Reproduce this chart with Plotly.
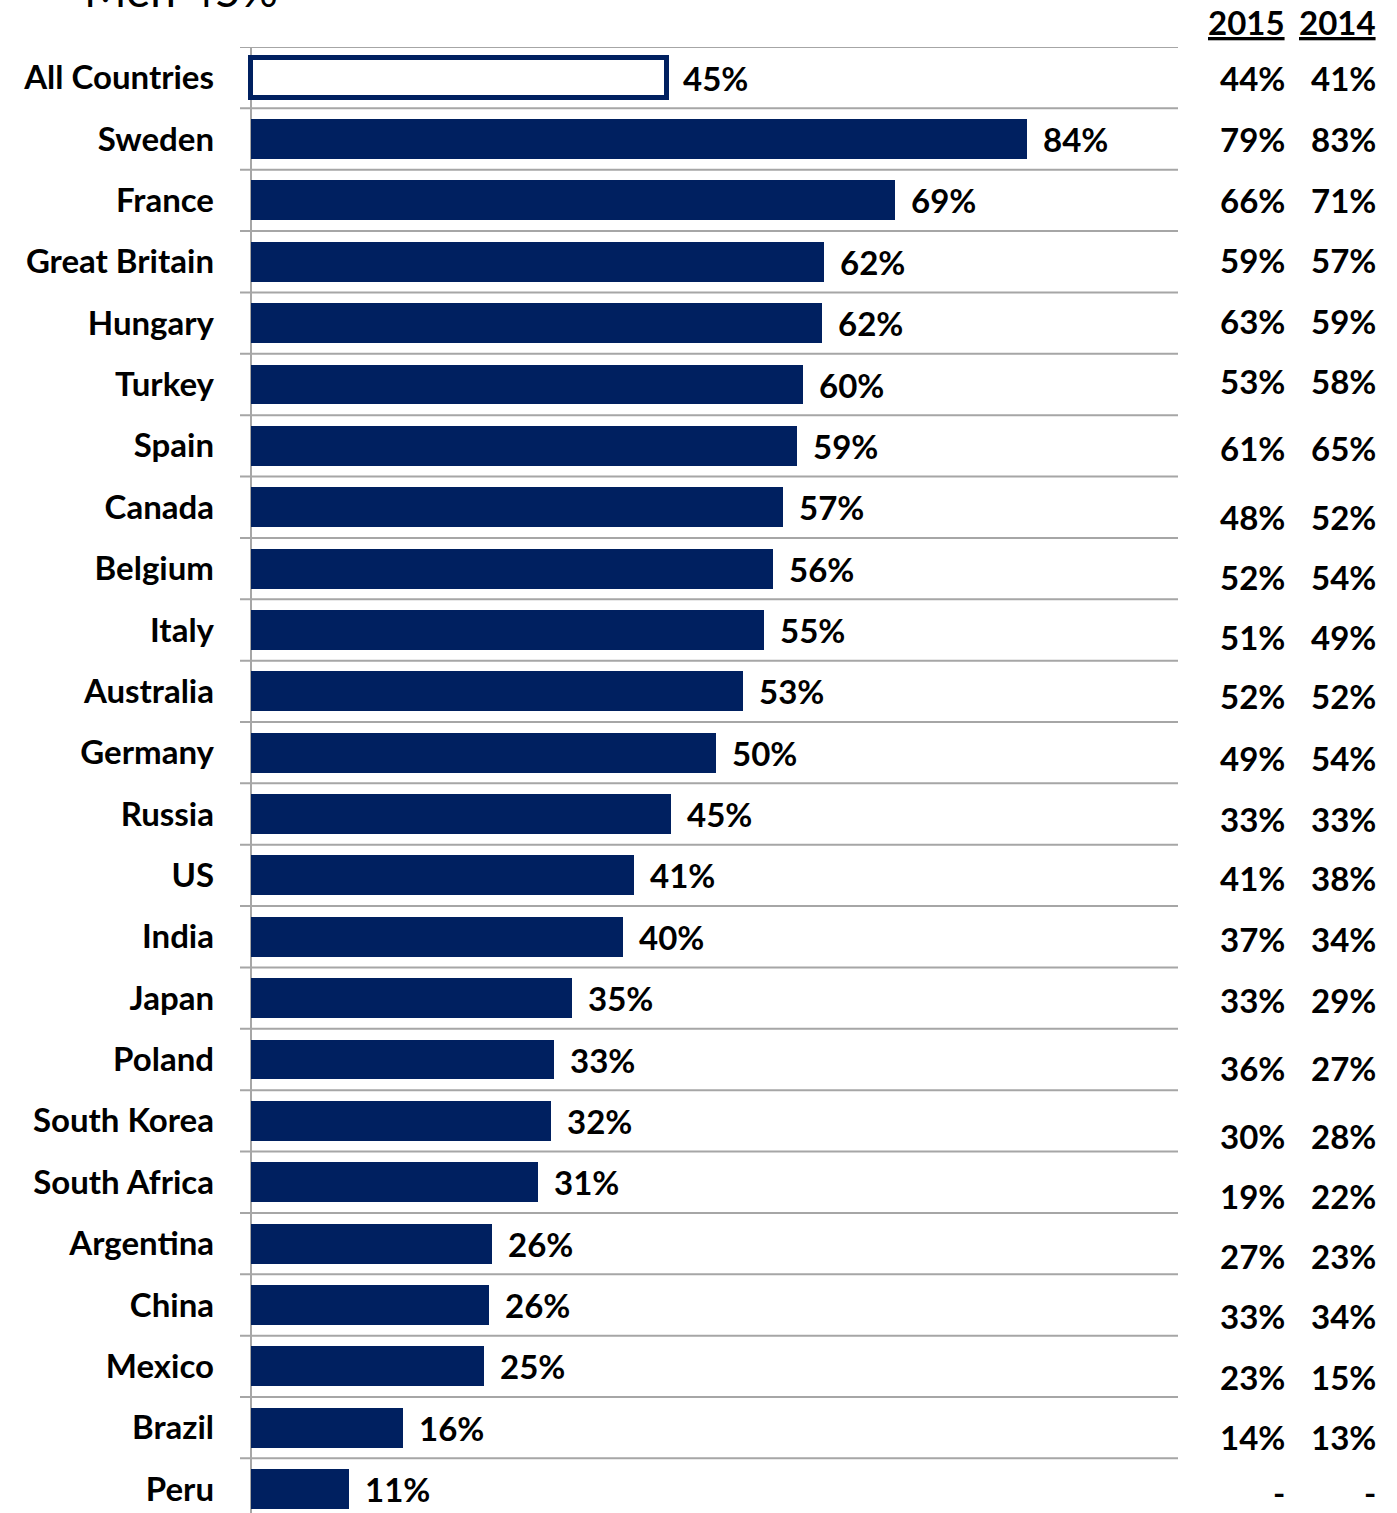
import plotly.graph_objects as go

countries = ["All Countries", "Sweden", "France", "Great Britain", "Hungary", "Turkey",
             "Spain", "Canada", "Belgium", "Italy", "Australia", "Germany", "Russia",
             "US", "India", "Japan", "Poland", "South Korea", "South Africa",
             "Argentina", "China", "Mexico", "Brazil", "Peru"]
# bar lengths (percent)
bar_values = [45.0, 84.0, 69.7, 62.0, 61.8, 59.7, 59.1, 57.6, 56.5, 55.5, 53.2, 50.3,
              45.5, 41.5, 40.3, 34.7, 32.8, 32.5, 31.1, 26.1, 25.8, 25.2, 16.5, 10.6]
# printed labels
labels_2016 = [45, 84, 69, 62, 62, 60, 59, 57, 56, 55, 53, 50, 45, 41, 40, 35, 33, 32,
               31, 26, 26, 25, 16, 11]
values_2015 = ["44%", "79%", "66%", "59%", "63%", "53%", "61%", "48%", "52%", "51%",
               "52%", "49%", "33%", "41%", "37%", "33%", "36%", "30%", "19%", "27%",
               "33%", "23%", "14%", "-"]
values_2014 = ["41%", "83%", "71%", "57%", "59%", "58%", "65%", "52%", "54%", "49%",
               "52%", "54%", "33%", "38%", "34%", "29%", "27%", "28%", "22%", "23%",
               "34%", "15%", "13%", "-"]
title_text = "Men 45%"
col_headers = ["2015", "2014"]

# layout helpers (pixel nudges of the right-hand columns, not data)
col_shift = [0, 0, 0, -2, -2, -4, 2, 10, 8, 7, 5, 5, 5, 3, 2, 2, 8, 15, 14, 12, 11, 11, 9, 3]

NAVY = "#002060"
GRID = "#a6a6a6"
FONT = "Lato"
FS = 33

W, H = 1397, 1513
ML, MR, MT, MB = 240, 219, 47, 0
PW = W - ML - MR
PH = H - MT - MB

def px_to_paper_x(px):
    return (px - ML) / PW

def px_to_paper_y(py):
    return 1 + (MT - py) / PH

n = len(countries)
ypos = list(range(n))

fig = go.Figure()
fig.add_trace(go.Bar(
    x=bar_values, y=ypos, orientation="h", width=0.65,
    marker=dict(color=["white"] + [NAVY] * (n - 1),
                line=dict(color=NAVY, width=[5] + [0] * (n - 1))),
    hoverinfo="skip", showlegend=False,
))

shapes = []
for k in range(n):
    shapes.append(dict(type="line", xref="x domain", yref="y", x0=0, x1=1,
                       y0=k - 0.5, y1=k - 0.5, line=dict(color=GRID, width=2),
                       layer="below"))
shapes.append(dict(type="line", xref="x", yref="y domain", x0=0, x1=0, y0=0, y1=1,
                   line=dict(color=GRID, width=2), layer="below"))

annotations = []
for i in range(n):
    annotations.append(dict(x=bar_values[i], y=i, xref="x", yref="y",
                            text=f"<b>{labels_2016[i]}%</b>", showarrow=False,
                            xanchor="left", yanchor="middle", xshift=14,
                            font=dict(family=FONT, size=FS, color="black")))
    for val, xp in ((values_2015[i], 1287), (values_2014[i], 1378)):
        annotations.append(dict(x=px_to_paper_x(xp), y=i, xref="paper", yref="y",
                                text=f"<b>{val}</b>", showarrow=False,
                                xanchor="right", yanchor="middle",
                                yshift=-col_shift[i],
                                font=dict(family=FONT, size=FS, color="black")))
for hdr, xp in zip(col_headers, (1287, 1378)):
    annotations.append(dict(x=px_to_paper_x(xp), y=px_to_paper_y(22), xref="paper",
                            yref="paper", text=f"<b><u>{hdr}</u></b>", showarrow=False,
                            xanchor="right", yanchor="middle",
                            font=dict(family=FONT, size=FS, color="black")))
annotations.append(dict(x=px_to_paper_x(82), y=px_to_paper_y(-10), xref="paper",
                        yref="paper", text=title_text, showarrow=False,
                        xanchor="left", yanchor="middle",
                        font=dict(family=FONT, size=46, color="black")))

x_lo = -11 / 9.24
x_hi = (1178 - 251) / 9.24
fig.update_layout(
    width=W, height=H,
    margin=dict(l=ML, r=MR, t=MT, b=MB, pad=0),
    paper_bgcolor="white", plot_bgcolor="white",
    xaxis=dict(range=[x_lo, x_hi], visible=False, fixedrange=True),
    yaxis=dict(range=[n - 1 + (H - 78 - (n - 1) * 61.35) / 61.35, -0.5],
               tickmode="array", tickvals=ypos, ticktext=[f"<b>{c}</b>" for c in countries],
               showgrid=False, zeroline=False, showline=False, ticks="",
               ticklabelstandoff=25,
               tickfont=dict(family=FONT, size=FS, color="black"), fixedrange=True),
    shapes=shapes, annotations=annotations,
    bargap=0,
)
fig.write_html("out.html")
